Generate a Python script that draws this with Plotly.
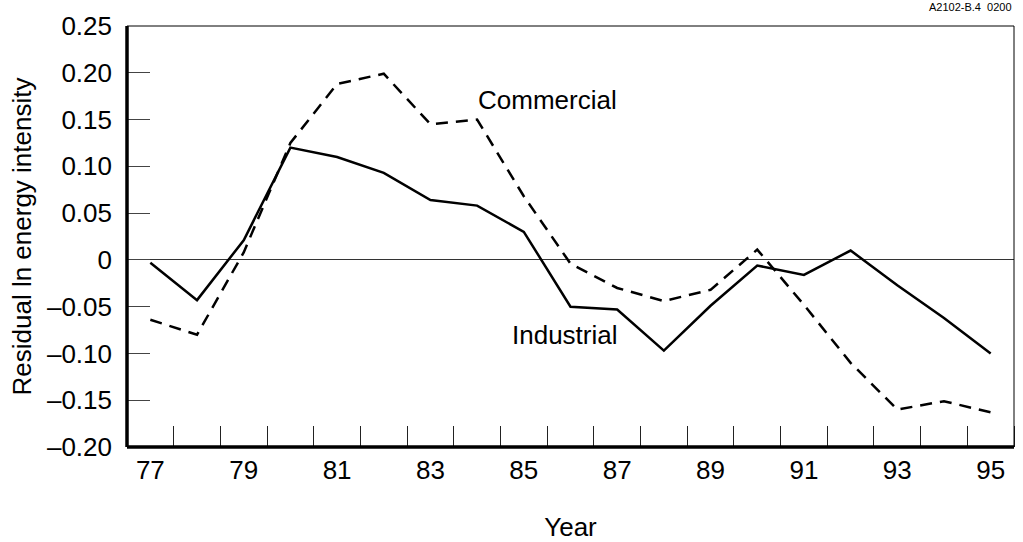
import plotly.graph_objects as go

years = list(range(1977, 1996))
year_short = [y - 1900 for y in years]
industrial = [-0.003, -0.043, 0.021, 0.120, 0.110, 0.093, 0.064, 0.058, 0.030,
              -0.050, -0.053, -0.097, -0.049, -0.006, -0.016, 0.010, -0.027, -0.062, -0.100]
commercial = [-0.064, -0.080, 0.008, 0.125, 0.188, 0.199, 0.145, 0.150, 0.068,
              -0.004, -0.030, -0.044, -0.032, 0.011, -0.048, -0.110, -0.160, -0.151, -0.163]
ytick_vals = [-0.20, -0.15, -0.10, -0.05, 0, 0.05, 0.10, 0.15, 0.20, 0.25]
ytick_text = ["\u20130.20", "\u20130.15", "\u20130.10", "\u20130.05", "0", "0.05", "0.10", "0.15", "0.20", "0.25"]
xtick_vals = [77, 79, 81, 83, 85, 87, 89, 91, 93, 95]

FONT = "Liberation Sans, Arial, sans-serif"

fig = go.Figure()
fig.add_trace(go.Scatter(x=year_short, y=commercial, mode="lines", name="Commercial",
                         line=dict(color="black", width=2.5, dash="12px,8px")))
fig.add_trace(go.Scatter(x=year_short, y=industrial, mode="lines", name="Industrial",
                         line=dict(color="black", width=2.5)))

fig.update_layout(
    width=1023, height=542,
    margin=dict(l=127, r=9, t=26, b=95),
    paper_bgcolor="white", plot_bgcolor="white",
    showlegend=False,
    font=dict(family=FONT, size=26, color="black"),
    xaxis=dict(range=[76.5, 95.5], tickvals=xtick_vals, ticktext=[str(v) for v in xtick_vals],
               ticks="", ticklen=0, showgrid=False, zeroline=False, automargin=False,
               showline=False, ticklabelstandoff=5,
               minor=dict(tick0=77.5, dtick=1, ticks="inside", ticklen=21, tickcolor="#222",
                          tickwidth=1, showgrid=False),
               title=dict(text="Year", font=dict(size=26), standoff=48)),
    yaxis=dict(range=[-0.2, 0.25], tickvals=ytick_vals, ticktext=ytick_text,
               ticks="inside", ticklen=23, tickcolor="#444", tickwidth=1,
               showgrid=False, zeroline=True, zerolinecolor="#333", zerolinewidth=1,
               showline=False, automargin=False,
               ticklabelstandoff=14,
               title=dict(text="Residual ln energy intensity", font=dict(size=26), standoff=7)),
)

# plot frame: thick left and bottom axes, thin top and right borders
fig.add_shape(type="line", xref="paper", yref="paper", x0=0, x1=1, y0=1, y1=1,
              line=dict(color="black", width=1), layer="above")
fig.add_shape(type="line", xref="paper", yref="paper", x0=1, x1=1, y0=0, y1=1,
              line=dict(color="black", width=1), layer="above")
fig.add_shape(type="line", xref="paper", yref="paper", x0=0, x1=0, y0=0, y1=1,
              line=dict(color="black", width=3.5), layer="above")
fig.add_shape(type="line", xref="paper", yref="paper", x0=0, x1=1, y0=0, y1=0,
              line=dict(color="black", width=3.5), layer="above")

fig.add_annotation(x=83.98, y=0.171, text="Commercial", showarrow=False,
                   xanchor="left", yanchor="middle", font=dict(size=26))
fig.add_annotation(x=84.71, y=-0.080, text="Industrial", showarrow=False,
                   xanchor="left", yanchor="middle", font=dict(size=26))
fig.add_annotation(xref="paper", yref="paper", x=1.0, y=1.0, yshift=11,
                   text="A2102-B.4  0200", showarrow=False, xanchor="right", yanchor="bottom",
                   font=dict(size=11))

fig.write_html("out.html", config={"displayModeBar": False},
               post_script="document.body.style.margin='0';")
